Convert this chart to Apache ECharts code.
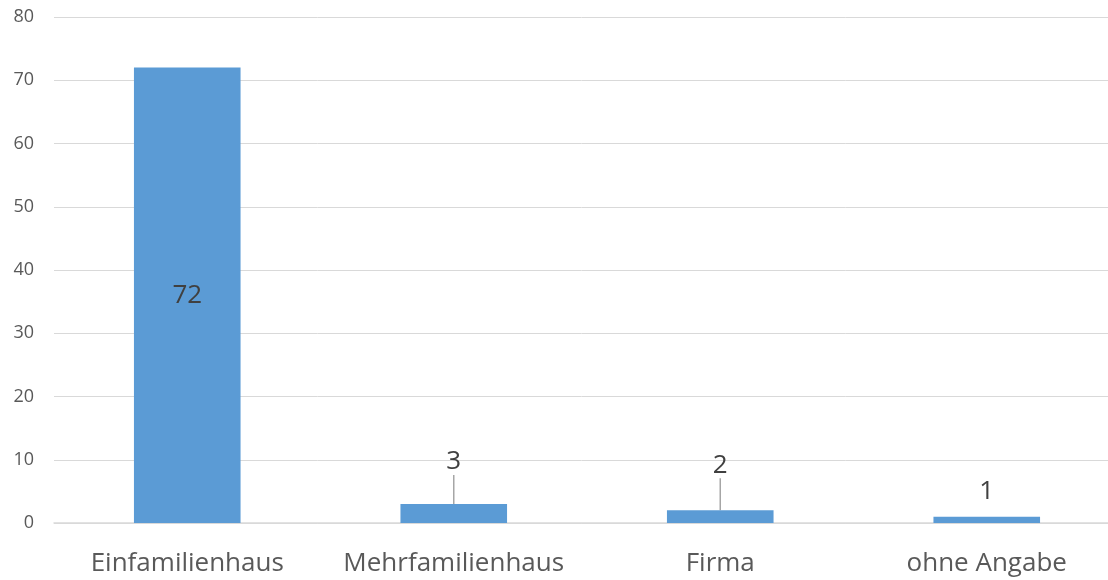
<!DOCTYPE html>
<html><head><meta charset="utf-8">
<script src="https://cdn.jsdelivr.net/npm/echarts@6/dist/echarts.min.js"></script>
<style>html,body{margin:0;padding:0;background:#fff}#c{width:1108px;height:580px}</style>
</head><body><div id="c"></div>
<script>
const categories = ["Einfamilienhaus", "Mehrfamilienhaus", "Firma", "ohne Angabe"];
const values = [72, 3, 2, 1];
const yTicks = [0, 10, 20, 30, 40, 50, 60, 70, 80];

const labelModes = ["inside", "callout", "callout", "top"];
const data = values.map((v, i) => {
  const m = labelModes[i];
  if (m === "inside") return { value: v, label: { position: "inside" } };
  if (m === "callout") return { value: v, label: { position: "top", distance: 5 }, labelLine: { show: true } };
  return { value: v, label: { position: "top", distance: 12 } };
});

const chart = echarts.init(document.getElementById('c'));
chart.setOption({
  animation: false,
  grid: { left: 54, width: 1066, top: 17, bottom: 57, containLabel: false, outerBoundsMode: 'none' },
  xAxis: {
    type: 'category', data: categories,
    axisLine: { lineStyle: { color: '#d9d9d9', width: 1.5 } },
    axisTick: { show: false },
    axisLabel: { color: '#595959', fontSize: 26, fontFamily: 'Open Sans', margin: 28, interval: 0 }
  },
  yAxis: {
    type: 'value', min: yTicks[0], max: yTicks[yTicks.length - 1], interval: 10,
    axisLine: { show: false }, axisTick: { show: false },
    splitLine: { lineStyle: { color: '#d9d9d9', width: 1 } },
    axisLabel: { color: '#595959', fontSize: 18, fontFamily: 'Open Sans', margin: 20 }
  },
  series: [{
    type: 'bar', data: data, barWidth: '40%',
    itemStyle: { color: '#5b9bd5' },
    label: { show: true, color: '#404040', fontSize: 26, fontFamily: 'Open Sans' },
    labelLine: { lineStyle: { color: '#a6a6a6', width: 1.5 } },
    labelLayout: function (p) {
      return labelModes[p.dataIndex] === 'callout' ? { dy: p.dataIndex === 1 ? -24 : -27 } : {};
    }
  }]
});
</script></body></html>
